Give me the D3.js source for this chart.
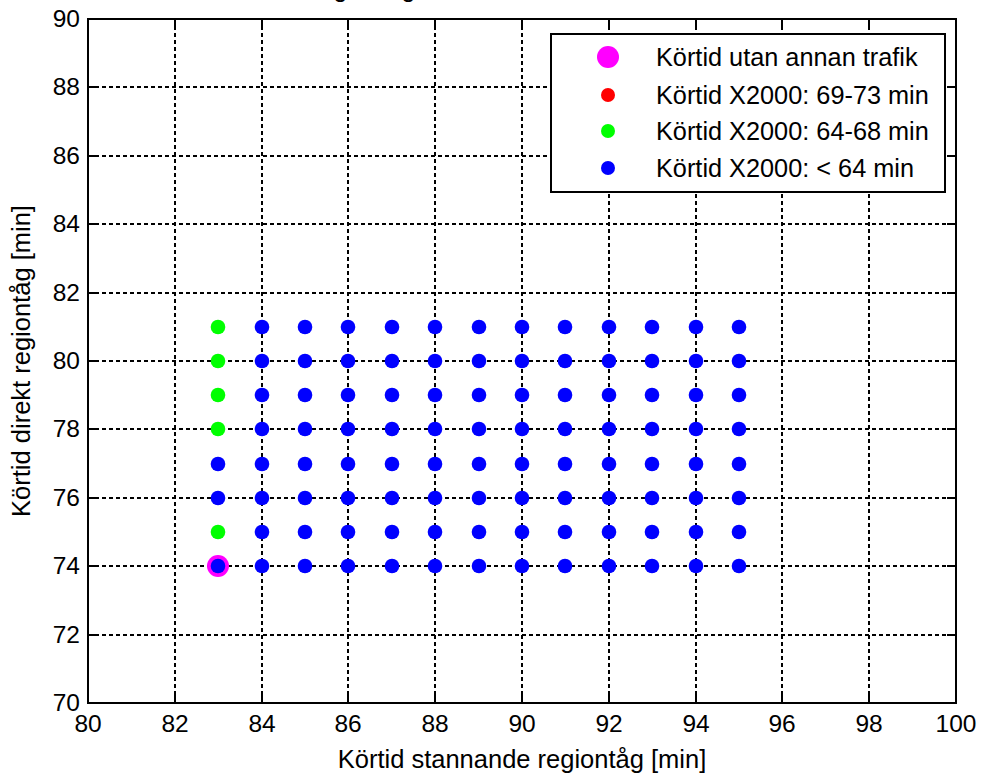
<!DOCTYPE html>
<html>
<head>
<meta charset="utf-8">
<script src="https://cdn.jsdelivr.net/npm/d3@7"></script>
<style>
  html, body { margin: 0; padding: 0; background: #fff; }
  svg { display: block; font-family: "Liberation Sans", Arial, Helvetica, sans-serif; }
</style>
</head>
<body>
<svg id="chart" width="981" height="773"></svg>
<script>
// ---- data ----
const titleText = "Körtid regiontåg och X2000 vid olika körtider";
const xLabel = "Körtid stannande regiontåg [min]";
const yLabel = "Körtid direkt regiontåg [min]";
const xTicks = [80, 82, 84, 86, 88, 90, 92, 94, 96, 98, 100];
const yTicks = [70, 72, 74, 76, 78, 80, 82, 84, 86, 88, 90];
const stannande = [83, 84, 85, 86, 87, 88, 89, 90, 91, 92, 93, 94, 95];
const direkt = [81, 80, 79, 78, 77, 76, 75, 74];
// group per point: row = direkt value (top to bottom), column = stannande value
// R = 69-73 min, G = 64-68 min, B = < 64 min
const groupRows = [
  "GBBBBBBBBBBBB", // 81
  "GBBBBBBBBBBBB", // 80
  "GBBBBBBBBBBBB", // 79
  "GBBBBBBBBBBBB", // 78
  "BBBBBBBBBBBBB", // 77
  "BBBBBBBBBBBBB", // 76
  "GBBBBBBBBBBBB", // 75
  "BBBBBBBBBBBBB"  // 74
];
const referencePoint = [{ x: 83, y: 74 }];
const legendLabels = ["Körtid utan annan trafik", "Körtid X2000: 69-73 min", "Körtid X2000: 64-68 min", "Körtid X2000: < 64 min"];
const groupCodes = ["R", "G", "B"];
const groupColors = { R: "#ff0000", G: "#00ff00", B: "#0000ff" };
const refColor = "#ff00ff";

// ---- layout ----
const svg = d3.select("#chart");
const pL = 88, pR = 956, pT = 19, pB = 703;
const x = d3.scaleLinear().domain([80, 100]).range([pL, pR]).interpolate(d3.interpolateRound);
const y = d3.scaleLinear().domain([70, 90]).range([pB, pT]).interpolate(d3.interpolateRound);

const points = [];
direkt.forEach((dv, i) => {
  stannande.forEach((sv, j) => {
    points.push({ x: sv, y: dv, g: groupRows[i][j] });
  });
});

// title (cut off at the top in the reference)
svg.append("text").attr("x", 239).attr("y", -3)
  .attr("font-size", 25).attr("fill", "#000").text(titleText);

// background
svg.append("rect").attr("x", pL).attr("y", pT)
  .attr("width", pR - pL).attr("height", pB - pT).attr("fill", "#fff");

// grid
const grid = svg.append("g").attr("stroke", "#000").attr("stroke-width", 2)
  .attr("stroke-dasharray", "4,3");
grid.selectAll("line.v").data(xTicks.slice(1, -1)).enter().append("line")
  .attr("x1", d => x(d)).attr("x2", d => x(d)).attr("y1", pT).attr("y2", pB);
grid.selectAll("line.h").data(yTicks.slice(1, -1)).enter().append("line")
  .attr("y1", d => y(d)).attr("y2", d => y(d)).attr("x1", pL).attr("x2", pR);

// reference point (underneath)
svg.append("g").selectAll("circle").data(referencePoint).enter().append("circle")
  .attr("cx", d => x(d.x)).attr("cy", d => y(d.y)).attr("r", 11).attr("fill", refColor);

// data points
svg.append("g").selectAll("circle").data(points).enter().append("circle")
  .attr("cx", d => x(d.x)).attr("cy", d => y(d.y)).attr("r", 7.3)
  .attr("fill", d => groupColors[d.g]);

// legend
const lg = svg.append("g");
lg.append("rect").attr("x", 551).attr("y", 34).attr("width", 394).attr("height", 158)
  .attr("fill", "#fff").attr("stroke", "#000").attr("stroke-width", 2);
const legendY = [57, 95, 131, 168];
const legendItems = [{ c: refColor, r: 11 }].concat(groupCodes.map(g => ({ c: groupColors[g], r: 7 })));
legendItems.forEach((it, i) => {
  lg.append("circle").attr("cx", 608).attr("cy", legendY[i]).attr("r", it.r).attr("fill", it.c);
  lg.append("text").attr("x", 656).attr("y", legendY[i]).attr("dy", "0.36em")
    .attr("font-size", 25.3).attr("fill", "#000").text(legendLabels[i]);
});

// axes
function styleAxis(g) {
  g.selectAll("path.domain").remove();
  g.selectAll(".tick line").attr("stroke", "#000").attr("stroke-width", 2);
  g.selectAll(".tick text").attr("fill", "#000").attr("font-size", 24.5)
    .attr("font-family", "Liberation Sans, Arial, sans-serif");
}
svg.append("g").attr("transform", `translate(0,${pB})`)
  .call(d3.axisBottom(x).tickValues(xTicks).tickSize(-9).tickPadding(12).offset(0).tickFormat(d3.format("d")))
  .call(styleAxis);
svg.append("g").attr("transform", `translate(0,${pT})`)
  .call(d3.axisTop(x).tickValues(xTicks).tickSize(-9).offset(0).tickFormat(""))
  .call(styleAxis);
svg.append("g").attr("transform", `translate(${pL},0)`)
  .call(d3.axisLeft(y).tickValues(yTicks).tickSize(-9).tickPadding(8).offset(0).tickFormat(d3.format("d")))
  .call(styleAxis);
svg.append("g").attr("transform", `translate(${pR},0)`)
  .call(d3.axisRight(y).tickValues(yTicks).tickSize(-9).offset(0).tickFormat(""))
  .call(styleAxis);

// box
svg.append("rect").attr("x", pL).attr("y", pT)
  .attr("width", pR - pL).attr("height", pB - pT)
  .attr("fill", "none").attr("stroke", "#000").attr("stroke-width", 2);

// axis labels
svg.append("text").attr("x", (pL + pR) / 2).attr("y", 768)
  .attr("text-anchor", "middle").attr("font-size", 25.5).attr("fill", "#000").text(xLabel);
svg.append("text").attr("transform", `translate(30,${(pT + pB) / 2}) rotate(-90)`)
  .attr("text-anchor", "middle").attr("font-size", 25.5).attr("fill", "#000").text(yLabel);
</script>
</body>
</html>
